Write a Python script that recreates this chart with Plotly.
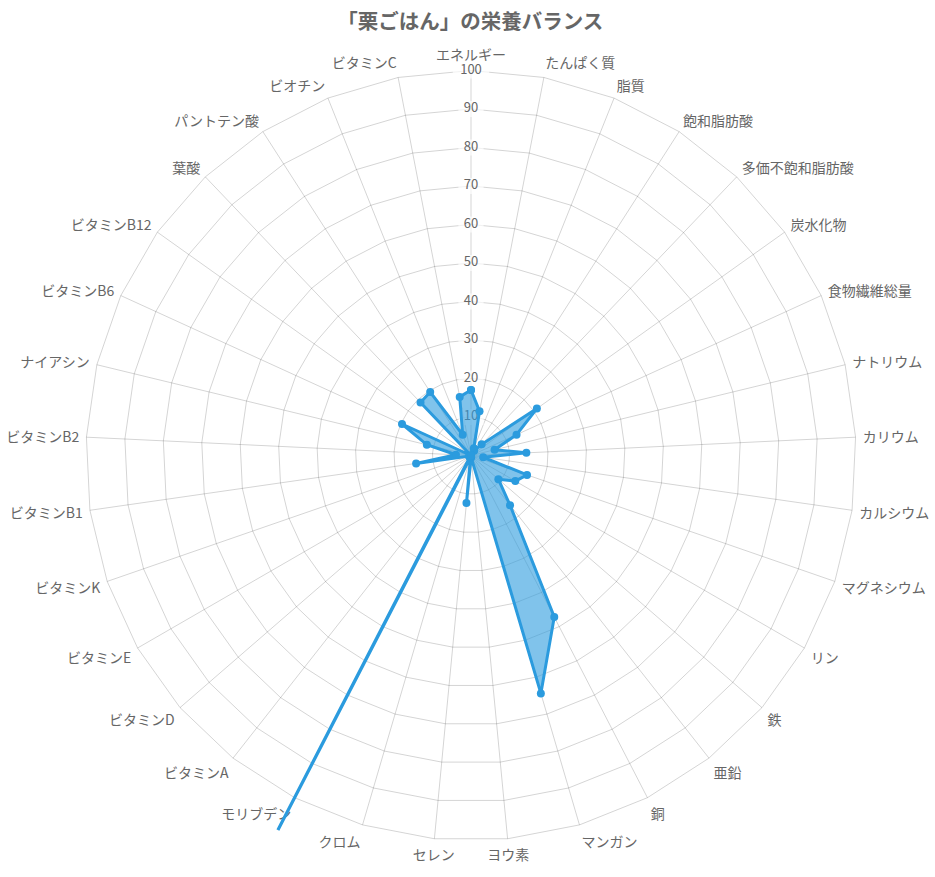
import plotly.graph_objects as go

title_text = "「栗ごはん」の栄養バランス"

categories = [
    "エネルギー", "たんぱく質", "脂質", "飽和脂肪酸", "多価不飽和脂肪酸", "炭水化物",
    "食物繊維総量", "ナトリウム", "カリウム", "カルシウム", "マグネシウム", "リン",
    "鉄", "亜鉛", "銅", "マンガン", "ヨウ素", "セレン", "クロム", "モリブデン",
    "ビタミンA", "ビタミンD", "ビタミンE", "ビタミンK", "ビタミンB1", "ビタミンB2",
    "ナイアシン", "ビタミンB6", "ビタミンB12", "葉酸", "パントテン酸", "ビオチン", "ビタミンC",
]

values = [
    17.0, 11.7, 2.0, 1.5, 4.0, 21.0,
    13.0, 6.3, 14.4, 3.2, 15.4, 13.3,
    9.4, 16.4, 47.2, 64.4, 0.5, 12.4, 0.5, 150.0,
    0.5, 0.0, 0.5, 0.5, 14.4, 3.9,
    11.8, 19.7, 0.0, 19.0, 19.6, 5.8, 15.5,
]

tick_values = [10, 20, 30, 40, 50, 60, 70, 80, 90, 100]
tick_labels = [str(v) for v in tick_values]

LINE = "rgb(43,155,222)"
FILL = "rgba(43,155,222,0.6)"
GRID = "rgba(0,0,0,0.17)"
TXT = "#666666"
FONT = "Noto Sans CJK JP, Noto Sans, sans-serif"

W, H = 935, 877
cx, cy = 471.0, 455.5          # centre in px (from top-left)
R = 385.0                      # px radius of value 100
R2 = H - cy                    # larger clip radius for the data layer

fig = go.Figure()

# invisible trace holding all categories in the grid subplot
fig.add_trace(go.Scatterpolar(
    r=[0] * len(categories), theta=categories, mode="lines",
    line=dict(color="rgba(0,0,0,0)"), hoverinfo="skip", showlegend=False,
    subplot="polar",
))

# radial tick labels drawn on the top spoke with white backdrop
fig.add_trace(go.Scatterpolar(
    r=tick_values, theta=[categories[0]] * len(tick_values),
    mode="markers+text", text=tick_labels, textposition="middle center",
    textfont=dict(size=13, color=TXT, family=FONT),
    marker=dict(symbol="line-ew", size=[18] * 9 + [26], color="white",
                line=dict(color="white", width=16)),
    cliponaxis=False, hoverinfo="skip", showlegend=False, subplot="polar",
))

# data (in an overlaid, larger subplot so the long spike is not cut at 100)
fig.add_trace(go.Scatterpolar(
    r=values + values[:1], theta=categories + categories[:1],
    mode="lines+markers", fill="toself", fillcolor=FILL,
    line=dict(color=LINE, width=3), marker=dict(color=LINE, size=8),
    showlegend=False, subplot="polar2",
))

def dom(radius):
    x0 = (cx - radius) / W
    x1 = (cx + radius) / W
    yc = H - cy
    y0 = (yc - radius) / H
    y1 = (yc + radius) / H
    return dict(x=[max(0, x0), min(1, x1)], y=[max(0, y0), min(1, y1)])

fig.update_layout(
    width=W, height=H, autosize=False,
    margin=dict(l=0, r=0, t=0, b=0),
    paper_bgcolor="white", plot_bgcolor="white",
    font=dict(family=FONT, color=TXT),
    title=dict(text=title_text, x=0.503, xanchor="center", y=1 - 22 / H,
               yanchor="middle", font=dict(size=20.5, color=TXT, family=FONT, weight="bold")),
    polar=dict(
        domain=dom(R), bgcolor="white", gridshape="linear",
        radialaxis=dict(range=[0, 100], tickvals=[0] + tick_values, showticklabels=False,
                        showline=False, ticks="", gridcolor=GRID, gridwidth=1,
                        layer="below traces", angle=90),
        angularaxis=dict(type="category", categoryorder="array", categoryarray=categories,
                         rotation=90, direction="clockwise", gridcolor=GRID,
                         linecolor=GRID, showline=True, ticks="outside", ticklen=4,
                         tickcolor="rgba(0,0,0,0)", layer="below traces",
                         tickfont=dict(size=14, color=TXT, family=FONT)),
    ),
    polar2=dict(
        domain=dom(R2), bgcolor="rgba(0,0,0,0)", gridshape="circular",
        radialaxis=dict(range=[0, 100 * R2 / R], visible=False),
        angularaxis=dict(type="category", categoryorder="array", categoryarray=categories,
                         rotation=90, direction="clockwise", visible=False),
    ),
)

fig.write_html("out.html")
